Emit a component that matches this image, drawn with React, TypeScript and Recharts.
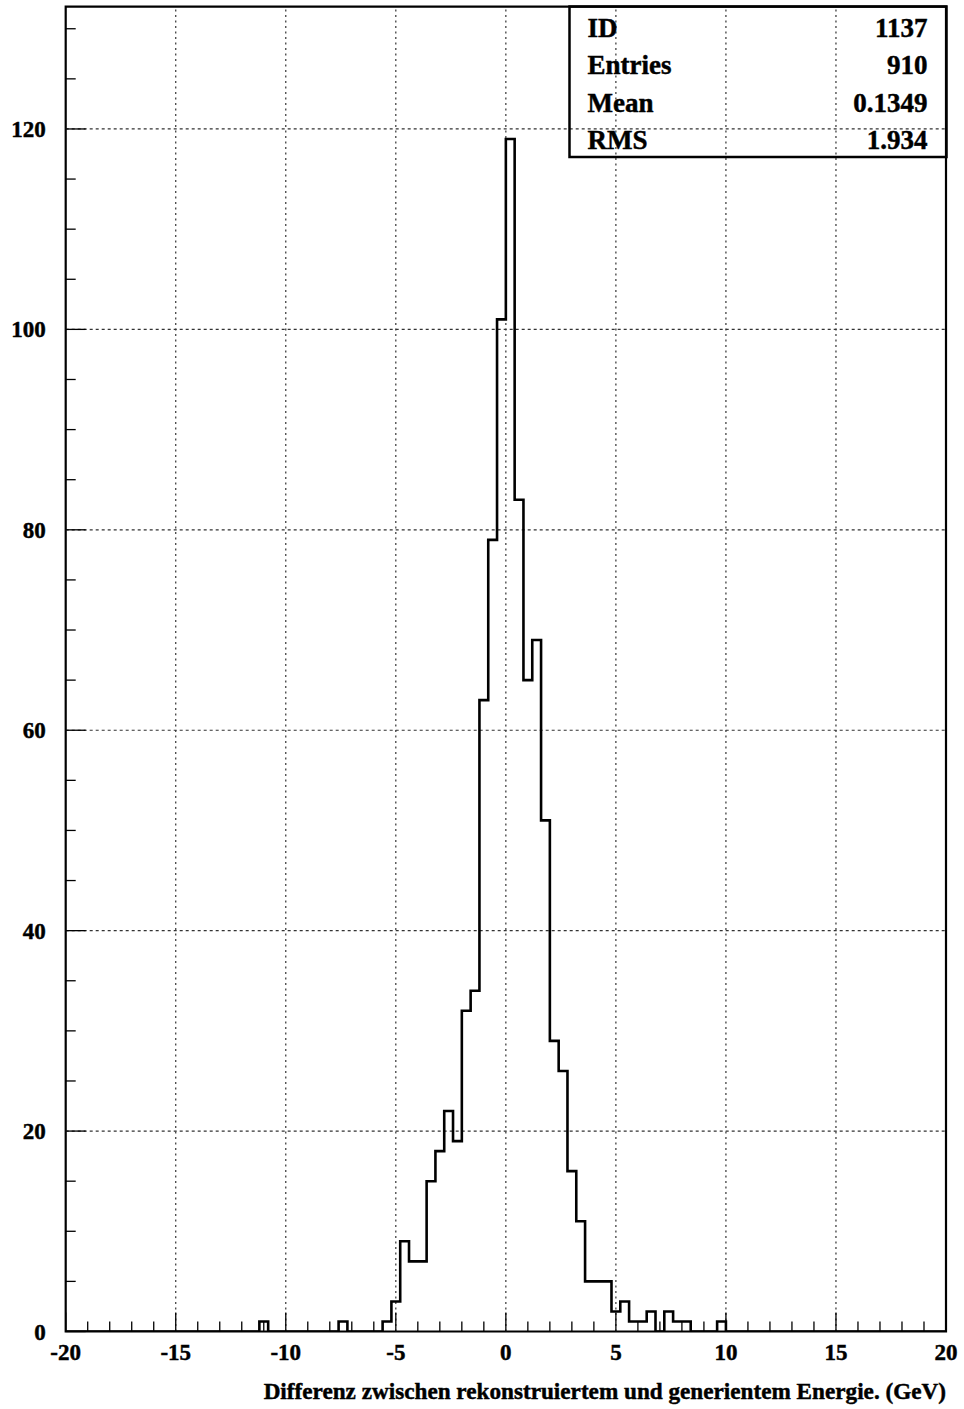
import React from 'react';
import { LineChart, Line, XAxis, YAxis, ReferenceLine, ReferenceArea } from 'recharts';

// Histogram range and binning (GeV)
const X_MIN = -20;
const X_MAX = 20;
const BIN_WIDTH = 0.4;
const Y_MAX = 132.2;

// Entries per 0.4 GeV bin, from -20 to +20 (100 bins)
const counts = [
  0, 0, 0, 0, 0, 0, 0, 0, 0, 0,
  0, 0, 0, 0, 0, 0, 0, 0, 0, 0,
  0, 0, 1, 0, 0, 0, 0, 0, 0, 0,
  0, 1, 0, 0, 0, 0, 1, 3, 9, 7,
  7, 15, 18, 22, 19, 32, 34, 63, 79, 101,
  119, 83, 65, 69, 51, 29, 26, 16, 11, 5,
  5, 5, 2, 3, 1, 1, 2, 0, 2, 1,
  1, 0, 0, 0, 1, 0, 0, 0, 0, 0,
  0, 0, 0, 0, 0, 0, 0, 0, 0, 0,
  0, 0, 0, 0, 0, 0, 0, 0, 0, 0,
];

// Axis labelling
const xMajorTicks = [-20, -15, -10, -5, 0, 5, 10, 15, 20];
const yMajorTicks = [0, 20, 40, 60, 80, 100, 120];
const xGridValues = [-15, -10, -5, 0, 5, 10, 15];
const yGridValues = [20, 40, 60, 80, 100, 120];
const xTitle = 'Differenz zwischen rekonstruiertem und generientem Energie. (GeV)';

// Statistics box
const statLabels = ['ID', 'Entries', 'Mean', 'RMS'];
const statValues = ['1137', '910', '0.1349', '1.934'];

const FONT = '"Liberation Serif", "Times New Roman", serif';
// shared text style: heavy bold serif
const textStyle = {
  fontFamily: FONT,
  fontWeight: 'bold' as const,
  fill: '#000',
  stroke: '#000',
  strokeWidth: 0.45,
};

// Bin edges with contents; the last edge closes the step outline
const histData = counts
  .map((n, i) => ({ x: X_MIN + i * BIN_WIDTH, n }))
  .concat([{ x: X_MAX, n: counts[counts.length - 1] }]);

const xTicks = Array.from({ length: X_MAX - X_MIN + 1 }, (_, i) => X_MIN + i);
const yTicks = Array.from({ length: 27 }, (_, i) => i * 5);

const XTick = (props: any) => {
  const { x, y, payload } = props;
  const major = xMajorTicks.includes(payload.value);
  return (
    <g>
      <line x1={x} x2={x} y1={y} y2={y - (major ? 19 : 10)} stroke="#000" strokeWidth={1.3} />
      {major && (
        <text x={x} y={y + 28.5} textAnchor="middle" fontSize={23} {...textStyle}>
          {payload.value}
        </text>
      )}
    </g>
  );
};

const YTick = (props: any) => {
  const { x, y, payload } = props;
  const major = yMajorTicks.includes(payload.value);
  return (
    <g>
      <line x1={x} x2={x + (major ? 20 : 10)} y1={y} y2={y} stroke="#000" strokeWidth={1.3} />
      {major && (
        <text x={x - 20} y={y + 8} textAnchor="end" fontSize={23} {...textStyle}>
          {payload.value}
        </text>
      )}
    </g>
  );
};

const XTitle = (props: any) => {
  const { viewBox } = props;
  return (
    <text x={viewBox.x + viewBox.width} y={viewBox.y + 67} textAnchor="end" fontSize={23.2} {...textStyle}>
      {xTitle}
    </text>
  );
};

const StatsBox = () => {
  const left = 569.5;
  const top = 6.5;
  const width = 377;
  const rowH = 37.6;
  return (
    <svg width={964} height={1409} style={{ position: 'absolute', left: 0, top: 0, pointerEvents: 'none' }}>
      <rect x={left} y={top} width={width} height={150.5} fill="none" stroke="#000" strokeWidth={2.5} />
      {statLabels.map((s, i) => (
        <text key={s} x={left + 18} y={top + 30 + i * rowH} fontSize={27} {...textStyle}>
          {s}
        </text>
      ))}
      {statValues.map((s, i) => (
        <text key={s} x={left + width - 19} y={top + 30 + i * rowH} textAnchor="end" fontSize={27} {...textStyle}>
          {s}
        </text>
      ))}
    </svg>
  );
};

export default function App() {
  return (
    <div style={{ position: 'absolute', left: 0, top: 0, width: 964, height: 1409, background: '#fff' }}>
      <LineChart
        width={964}
        height={1409}
        data={histData}
        margin={{ top: 6.7, right: 18, bottom: 76.5, left: 64.7 }}
      >
        <XAxis
          type="number"
          dataKey="x"
          domain={[X_MIN, X_MAX]}
          ticks={xTicks}
          interval={0}
          tickSize={0}
          tickMargin={0}
          axisLine={false}
          height={1}
          tick={<XTick />}
          label={<XTitle />}
          allowDataOverflow
        />
        <YAxis
          type="number"
          domain={[0, Y_MAX]}
          ticks={yTicks}
          interval={0}
          tickSize={0}
          tickMargin={0}
          axisLine={false}
          width={1}
          tick={<YTick />}
          allowDataOverflow
        />
        {xGridValues.map((v) => (
          <ReferenceLine key={`gx${v}`} x={v} stroke="#333" strokeWidth={1.2} strokeDasharray="2 3.5" />
        ))}
        {yGridValues.map((v) => (
          <ReferenceLine key={`gy${v}`} y={v} stroke="#333" strokeWidth={1.2} strokeDasharray="3 3" />
        ))}
        <ReferenceArea x1={X_MIN} x2={X_MAX} y1={0} y2={Y_MAX} fill="none" stroke="#000" strokeWidth={2.2} />
        <Line
          type="stepAfter"
          dataKey="n"
          stroke="#000"
          strokeWidth={2.6}
          dot={false}
          isAnimationActive={false}
        />
      </LineChart>
      <StatsBox />
    </div>
  );
}
